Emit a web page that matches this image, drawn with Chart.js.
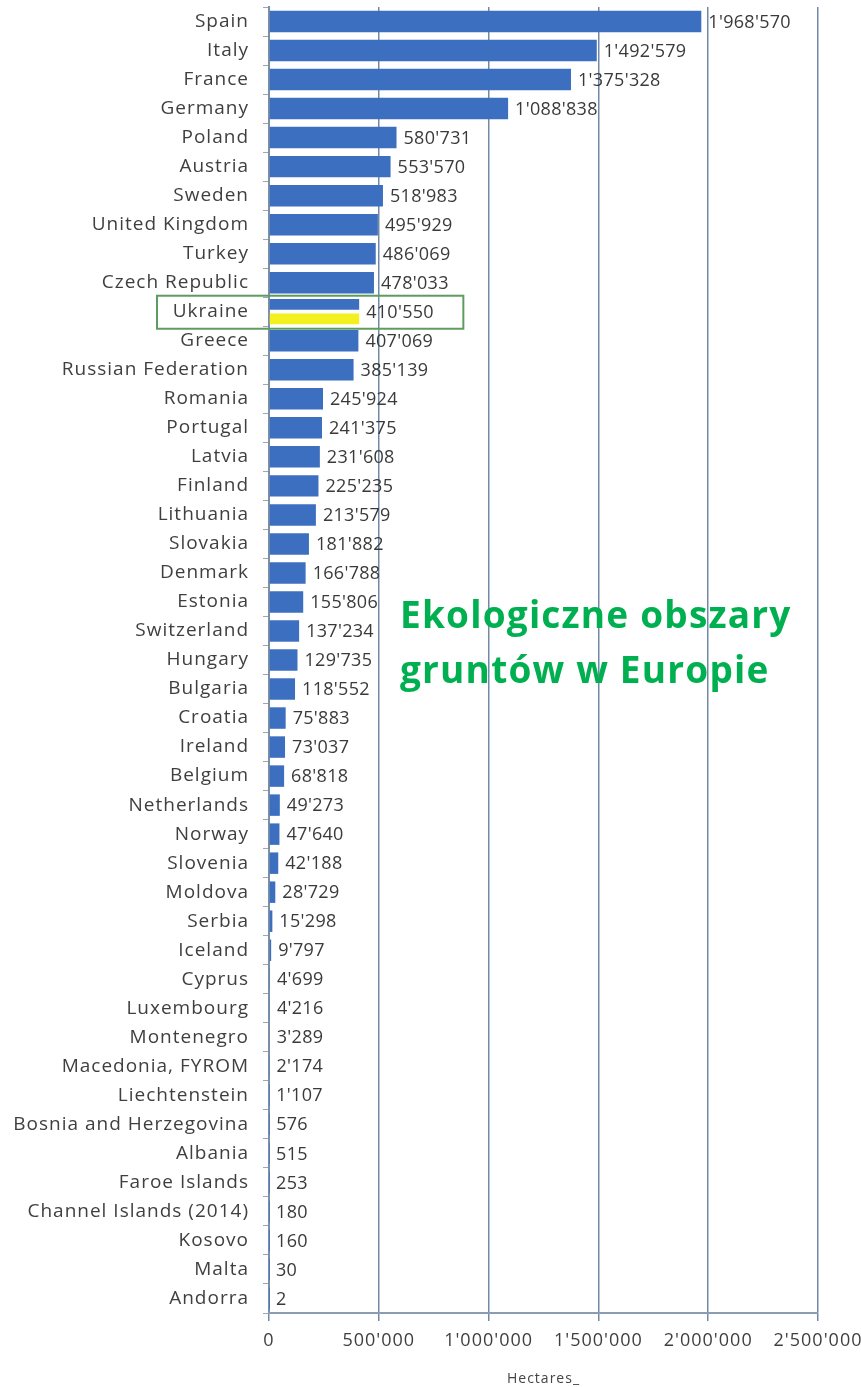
<!DOCTYPE html>
<html>
<head>
<meta charset="utf-8">
<script src="https://cdn.jsdelivr.net/npm/chart.js"></script>
<style>
  html, body { margin: 0; padding: 0; background: #ffffff; }
  .container { position: relative; width: 861px; height: 1387px; }
</style>
</head>
<body>
<div class="container">
  <canvas id="myChart" width="861" height="1387"></canvas>
</div>
<script>
// Organic farmland per country (hectares)
const countries = [
  "Spain", "Italy", "France", "Germany", "Poland", "Austria", "Sweden",
  "United Kingdom", "Turkey", "Czech Republic", "Ukraine", "Greece",
  "Russian Federation", "Romania", "Portugal", "Latvia", "Finland",
  "Lithuania", "Slovakia", "Denmark", "Estonia", "Switzerland", "Hungary",
  "Bulgaria", "Croatia", "Ireland", "Belgium", "Netherlands", "Norway",
  "Slovenia", "Moldova", "Serbia", "Iceland", "Cyprus", "Luxembourg",
  "Montenegro", "Macedonia, FYROM", "Liechtenstein", "Bosnia and Herzegovina",
  "Albania", "Faroe Islands", "Channel Islands (2014)", "Kosovo", "Malta",
  "Andorra"
];

const hectares = [
  1968570, 1492579, 1375328, 1088838, 580731, 553570, 518983,
  495929, 486069, 478033, 410550, 407069,
  385139, 245924, 241375, 231608, 225235,
  213579, 181882, 166788, 155806, 137234, 129735,
  118552, 75883, 73037, 68818, 49273, 47640,
  42188, 28729, 15298, 9797, 4699, 4216,
  3289, 2174, 1107, 576,
  515, 253, 180, 160, 30,
  2
];

const highlightCountry = "Ukraine";
const xTicks = [0, 500000, 1000000, 1500000, 2000000, 2500000];
const axisTitle = "Hectares_";
const titleLines = ["Ekologiczne obszary", "gruntów w Europie"];

// yellow half of the highlighted bar
const highlightValues = countries.map((c, i) => (c === highlightCountry ? hectares[i] : null));

function formatNumber(n) {
  return String(n).replace(/\B(?=(\d{3})+(?!\d))/g, "'");
}

// the source picture is stretched sideways, so text gets a bit of spacing
const spacingPlugin = {
  id: "spacingPlugin",
  beforeDraw(chart) {
    chart.ctx.letterSpacing = "1px";
  }
};

// Value labels, highlight box and green caption
const labelsPlugin = {
  id: "labelsPlugin",
  afterDatasetsDraw(chart) {
    const ctx = chart.ctx;
    const xScale = chart.scales.x;
    const yScale = chart.scales.y;
    const meta = chart.getDatasetMeta(0);

    ctx.save();
    ctx.letterSpacing = "0.3px";
    ctx.font = "18px 'Open Sans'";
    ctx.fillStyle = "#3a3a3a";
    ctx.textAlign = "left";
    ctx.textBaseline = "middle";
    meta.data.forEach((bar, i) => {
      const y = yScale.getPixelForTick(i);
      ctx.fillText(formatNumber(hectares[i]), bar.x + 7, y + 1);
    });

    // green box round the highlighted row
    const hi = countries.indexOf(highlightCountry);
    const cy = yScale.getPixelForTick(hi);
    const right = xScale.getPixelForValue(885000);
    ctx.strokeStyle = "#5e9c5e";
    ctx.lineWidth = 2;
    ctx.strokeRect(157, cy - 16, right - 157, 33);

    // caption
    ctx.letterSpacing = "1.2px";
    ctx.font = "bold 37px 'Open Sans'";
    ctx.fillStyle = "#00b050";
    ctx.textBaseline = "alphabetic";
    ctx.fillText(titleLines[0], 400, 628);
    ctx.fillText(titleLines[1], 400, 683);
    ctx.restore();
  }
};

const chart = new Chart(document.getElementById("myChart"), {
  type: "bar",
  data: {
    labels: countries,
    datasets: [
      {
        data: hectares,
        backgroundColor: "#3d6fc0",
        barPercentage: 0.74,
        categoryPercentage: 1.0,
      },
      {
        data: highlightValues,
        backgroundColor: "#f2f01e",
        barPercentage: 0.74,
        categoryPercentage: 1.0,
      },
    ],
  },
  options: {
    indexAxis: "y",
    responsive: false,
    animation: false,
    skipNull: true,
    layout: { padding: { top: 7, right: 43, left: 0, bottom: 0 } },
    plugins: {
      legend: { display: false },
      tooltip: { enabled: false },
    },
    scales: {
      y: {
        type: "category",
        afterFit: (scale) => {
          scale.width = 269;
          scale.paddingTop = 0;
          scale.paddingBottom = 0;
        },
        border: { display: true, color: "#7b8fa8", width: 2 },
        grid: {
          offset: true,
          drawOnChartArea: false,
          drawTicks: true,
          tickLength: 6,
          color: "#9aa8ba",
        },
        ticks: {
          font: { family: "'Open Sans'", size: 19 },
          color: "#3f3f3f",
          padding: 14,
          autoSkip: false,
        },
      },
      x: {
        min: 0,
        max: 2500000,
        afterFit: (scale) => {
          scale.height = 74;
          scale.paddingLeft = 0;
          scale.paddingRight = 0;
        },
        afterBuildTicks: (scale) => { scale.ticks = xTicks.map((v) => ({ value: v })); },
        border: { display: true, color: "#8c9db2", width: 2 },
        grid: {
          color: "#7189a6",
          lineWidth: 1.5,
          drawTicks: true,
          tickLength: 8,
        },
        ticks: {
          font: { family: "'Open Sans'", size: 18 },
          color: "#3f3f3f",
          padding: 9,
          maxRotation: 0,
          callback: (v) => formatNumber(v),
        },
        title: {
          display: true,
          text: axisTitle,
          font: { family: "'Open Sans'", size: 14 },
          color: "#444444",
          padding: { top: 0, bottom: 0 },
        },
      },
    },
  },
  plugins: [spacingPlugin, labelsPlugin],
});
</script>
</body>
</html>
